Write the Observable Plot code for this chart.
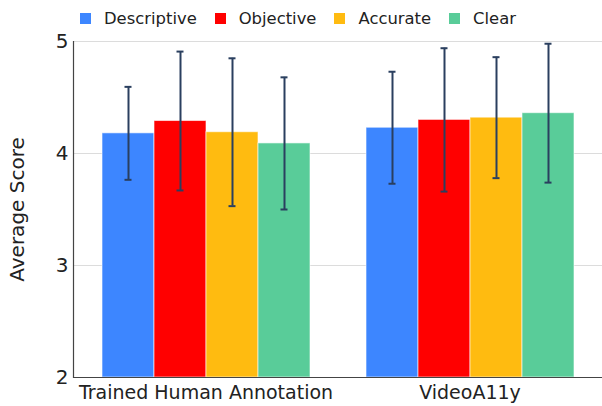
<!DOCTYPE html>
<html>
<head>
<meta charset="utf-8">
<script src="https://cdn.jsdelivr.net/npm/d3@7"></script>
<script src="https://cdn.jsdelivr.net/npm/@observablehq/plot@0.6"></script>
<style>
  html, body { margin: 0; padding: 0; background: #fff; }
  #wrap { position: relative; width: 602px; height: 406px; font-family: "DejaVu Sans", sans-serif; }
  #legend { position: absolute; left: 80px; top: 9px; display: flex; align-items: center; font-size: 16.4px; color: #222; white-space: nowrap; }
  #legend .item { display: flex; align-items: center; margin-right: 18px; }
  #legend .sw { width: 11px; height: 11px; margin-right: 13px; }
  .layer { position: absolute; left: 0; top: 0; }
</style>
</head>
<body>
<div id="wrap"><div id="back" class="layer"></div><div id="bars" class="layer"></div><div id="front" class="layer"></div><div id="legend"></div></div>
<script>
const groups = ["Trained Human Annotation", "VideoA11y"];
const series = ["Descriptive", "Objective", "Accurate", "Clear"];
const colors = ["#3d86ff", "#ff0000", "#ffbb10", "#59cc99"];
const humanMeans = [4.18, 4.29, 4.19, 4.09];
const humanErrors = [0.415, 0.62, 0.66, 0.59];
const videoMeans = [4.23, 4.30, 4.32, 4.36];
const videoErrors = [0.50, 0.64, 0.54, 0.62];
const yTicks = [2, 3, 4, 5];
const gridTicks = [3, 4, 5];

const data = [];
series.forEach((s, i) => {
  data.push({group: groups[0], series: s, mean: humanMeans[i], err: humanErrors[i]});
  data.push({group: groups[1], series: s, mean: videoMeans[i], err: videoErrors[i]});
});
data.forEach(d => { d.lo = d.mean - d.err; d.hi = d.mean + d.err; });

const common = {
  width: 602,
  height: 406,
  marginTop: 41,
  marginBottom: 29,
  marginLeft: 73,
  marginRight: 0,
  style: {fontFamily: "DejaVu Sans, sans-serif", color: "#222", background: "transparent", overflow: "visible"}
};

// Background: gridlines and y axis labels
const back = Plot.plot({
  ...common,
  y: {domain: [2, 5], label: null},
  marks: [
    Plot.ruleY(gridTicks, {y: d => d, stroke: "#dcdcdc", strokeWidth: 1}),
    Plot.axisY(yTicks, {tickSize: 0, tickPadding: 5, fontSize: 20, tickFormat: d => String(d), label: "Average Score", labelAnchor: "center", labelOffset: 64, labelArrow: "none"})
  ]
});

// Middle: grouped bars with error bars
const bars = Plot.plot({
  ...common,
  fx: {domain: groups, paddingInner: 0.2, paddingOuter: 0.1, label: null},
  x: {domain: series, padding: 0, axis: null},
  y: {domain: [2, 5], axis: null},
  color: {domain: series, range: colors},
  marks: [
    Plot.barY(data, {fx: "group", x: "series", y1: 2, y2: "mean", fill: "series", stroke: "white", strokeOpacity: 0.6, strokeWidth: 1}),
    Plot.ruleX(data, {fx: "group", x: "series", y1: "lo", y2: "hi", stroke: "#2a3f5f", strokeWidth: 2}),
    Plot.tickY(data, {fx: "group", x: "series", y: "hi", stroke: "#2a3f5f", strokeWidth: 2, insetLeft: 22.5, insetRight: 22.5}),
    Plot.tickY(data, {fx: "group", x: "series", y: "lo", stroke: "#2a3f5f", strokeWidth: 2, insetLeft: 22.5, insetRight: 22.5}),
    Plot.axisFx({anchor: "bottom", tickSize: 0, tickPadding: 8, fontSize: 19, label: null})
  ]
});

// Front: axis lines
const front = Plot.plot({
  ...common,
  y: {domain: [2, 5], axis: null},
  marks: [
    Plot.ruleY([2], {stroke: "#444", strokeWidth: 1.2}),
    Plot.frame({anchor: "left", stroke: "#444", strokeWidth: 1.2})
  ]
});

document.getElementById("back").appendChild(back);
document.getElementById("bars").appendChild(bars);
document.getElementById("front").appendChild(front);

const legend = document.getElementById("legend");
series.forEach((s, i) => {
  const item = document.createElement("div");
  item.className = "item";
  const sw = document.createElement("div");
  sw.className = "sw";
  sw.style.background = colors[i];
  const t = document.createElement("span");
  t.textContent = s;
  item.appendChild(sw);
  item.appendChild(t);
  legend.appendChild(item);
});
</script>
</body>
</html>
